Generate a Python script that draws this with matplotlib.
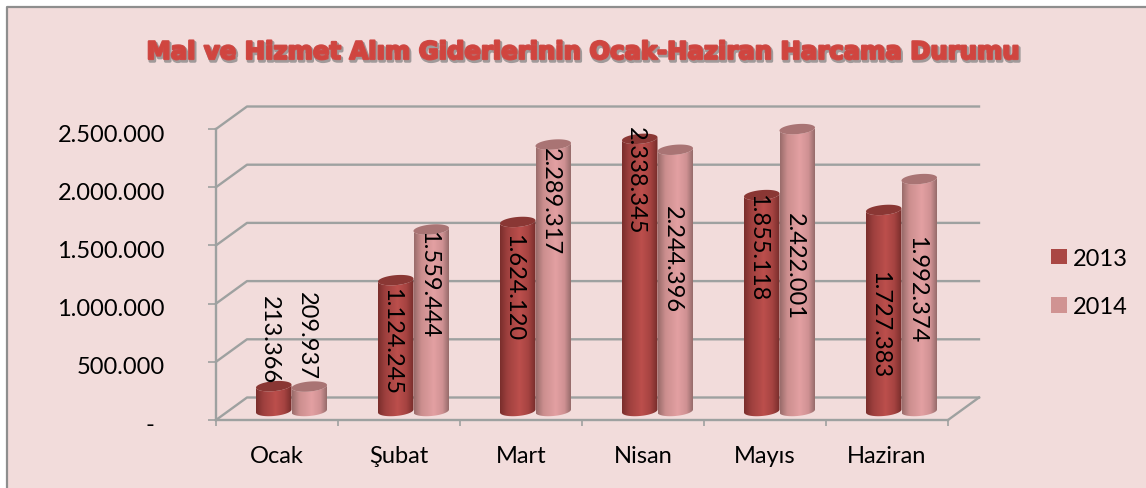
import matplotlib
matplotlib.use('Agg')
import matplotlib.pyplot as plt
import matplotlib.patheffects as pe
from matplotlib.colors import LinearSegmentedColormap
from matplotlib.lines import Line2D
from matplotlib.patches import Polygon, Rectangle, Patch
from matplotlib.transforms import ScaledTranslation, blended_transform_factory
import numpy as np

months = ['Ocak', 'Şubat', 'Mart', 'Nisan', 'Mayıs', 'Haziran']
values_2013 = [213366, 1124245, 1624120, 2338345, 1855118, 1727383]
values_2014 = [209937, 1559444, 2289317, 2244396, 2422001, 1992374]
y_ticks = [0, 500000, 1000000, 1500000, 2000000, 2500000]
y_tick_labels = ['-', '500.000', '1.000.000', '1.500.000', '2.000.000', '2.500.000']

# where the rotated data labels sit, pixels from the top of the picture
label_y_2013 = [340, 342, 288, 181, 248, 325]
label_y_2014 = [336, 285, 202, 260, 267, 290]

W, H = 1146, 489
plt.rcParams['font.family'] = ['Lato', 'DejaVu Sans']
FS = 17
GRID = '#9EA1A0'

fig = plt.figure(figsize=(W / 100, H / 100), dpi=100, facecolor='white')
fig.add_artist(Rectangle((7 / W, -0.1), 1, 1.1 - 8 / H, transform=fig.transFigure,
                         facecolor='#F2DCDB', edgecolor='none', zorder=-1))
fig.add_artist(Line2D([7 / W, 7 / W, 1], [0, 1 - 8 / H, 1 - 8 / H], color='#8E8E8E', lw=1.6, zorder=-1))

ax = fig.add_axes([216 / W, (H - 421) / H, 732 / W, 291 / H])
ax.patch.set_alpha(0)

# depth of the fake 3d box, in data units
px_x = 6 / 732
px_y = 2500000 / 291
dx = 31 * px_x
dy = 22.5 * px_y

for v in y_ticks:
    ax.plot([0, dx, 6 + dx], [v, v + dy, v + dy], color=GRID, lw=1.7, zorder=1, clip_on=False)
ax.plot([6, 6 + dx], [0, dy], color=GRID, lw=1.7, zorder=1, clip_on=False)

cmap_2013 = LinearSegmentedColormap.from_list('c13', [(0, '#7A2E2C'), (0.2, '#9E403E'), (0.55, '#BC4F4C'), (0.8, '#A54341'), (1, '#762C2A')])
cmap_2014 = LinearSegmentedColormap.from_list('c14', [(0, '#9A6C6B'), (0.2, '#CB8E8E'), (0.55, '#E3A0A2'), (0.8, '#CF9193'), (1, '#8F6665')])
grad = np.linspace(0, 1, 64).reshape(1, -1)


def cylinder(center, value, cmap, cap):
    w = 35.5 * px_x
    base = 9 * px_y
    r = 5 * px_y
    tilt = 1.5 * px_y
    t = np.linspace(0, np.pi, 40)
    xs = center - w / 2 * np.cos(t)      # left to right
    low = base - r * np.sin(t) - tilt * np.cos(t)
    top = base + value + r * np.sin(t) - tilt * np.cos(t)
    top2 = base + value - r * np.sin(t) - tilt * np.cos(t)
    body = np.vstack([np.c_[xs, low], np.c_[xs[::-1], top2[::-1]]])
    im = ax.imshow(grad, cmap=cmap, aspect='auto', zorder=3,
                   extent=[center - w / 2, center + w / 2, 0, base + value + 2 * r])
    clip = Polygon(body, closed=True, transform=ax.transData, facecolor='none', edgecolor='none')
    ax.add_patch(clip)
    im.set_clip_path(clip)
    ring = np.vstack([np.c_[xs, top], np.c_[xs[::-1], top2[::-1]]])
    ax.add_patch(Polygon(ring, closed=True, facecolor=cap, edgecolor='none', zorder=3, clip_on=False))


bar_shift = 14.5 * px_x
bar_w = 35.5 * px_x
label_tr = blended_transform_factory(ax.transData, fig.transFigure)
for i in range(len(months)):
    c = i + 0.5 + bar_shift
    cylinder(c - bar_w / 2, values_2013[i], cmap_2013, '#8A3734')
    cylinder(c + bar_w / 2, values_2014[i], cmap_2014, '#A97474')
    for v, ly, off in ((values_2013[i], label_y_2013[i], -bar_w / 2 - 4.5 * px_x),
                       (values_2014[i], label_y_2014[i], bar_w / 2 - 3 * px_x)):
        txt = f'{v:,}'.replace(',', '.')
        ax.text(c + off, 1 - ly / H, txt, rotation=-90, transform=label_tr,
                ha='center', va='center', fontsize=FS, color='black', zorder=10)

ax.set_xlim(0, 6)
ax.set_ylim(0, 2500000)
ax.set_xticks(range(7))
ax.set_xticklabels([])
ax.set_xticks([i + 0.5 for i in range(6)], minor=True)
ax.set_xticklabels(months, minor=True, fontsize=FS)
ax.set_yticks(y_ticks)
ax.set_yticklabels(y_tick_labels, fontsize=FS)
ax.tick_params(axis='y', length=5.8, width=1.2, color=GRID, pad=31)
ax.tick_params(axis='x', which='major', length=4.3, width=1.2, color=GRID)
ax.tick_params(axis='x', which='minor', length=0, pad=18)
for s in ('top', 'right'):
    ax.spines[s].set_visible(False)
for s in ('left', 'bottom'):
    ax.spines[s].set_color(GRID)
    ax.spines[s].set_linewidth(1.7)

# tick labels sit a little under their ticks, the dash further left
for lab in ax.get_yticklabels():
    shift = -11 / 100 if lab.get_text() == '-' else 0
    lab.set_transform(lab.get_transform() + ScaledTranslation(shift, -3 / 100, fig.dpi_scale_trans))

ax.legend(handles=[Patch(facecolor='#AA4744', label='2013'), Patch(facecolor='#D09392', label='2014')],
          loc='center left', bbox_to_anchor=(814 / 732, 0.472), frameon=False, fontsize=FS,
          handlelength=0.65, handleheight=0.65, handletextpad=0.25, labelspacing=1.17)

fig.text(581 / W, 1 - 53 / H, 'Mal ve Hizmet Alım Giderlerinin Ocak-Haziran Harcama Durumu',
         ha='center', va='center', fontsize=17.5, fontweight='bold', color='#D0453F',
         family=['DejaVu Sans'],
         path_effects=[pe.Stroke(linewidth=2.4, foreground='#A09A9A', offset=(1, -1.5)),
                       pe.Stroke(linewidth=1.6, foreground='#CE4A46'), pe.Normal()])

fig.savefig('out.png', dpi=100)
